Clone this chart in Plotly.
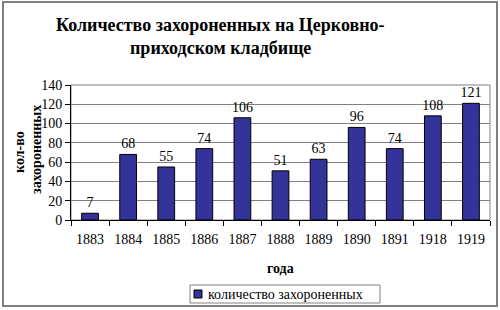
import plotly.graph_objects as go

years = ["1883", "1884", "1885", "1886", "1887", "1888", "1889", "1890", "1891", "1918", "1919"]
counts = [7, 68, 55, 74, 106, 51, 63, 96, 74, 108, 121]
series_name = "количество захороненных"
title_lines = ["Количество захороненных на Церковно-", "приходском кладбище"]
y_title_lines = ["кол-во", "захороненных"]
x_title = "года"

W, H = 500, 310
ml, mr, mt, mb = 71, 10, 85, 90
pw, ph = W - ml - mr, H - mt - mb

def px_x(p):
    return (p - ml) / pw

def px_y(p):
    return (H - mb - p) / ph

serif = "Times New Roman"
bar_color = "#333399"

fig = go.Figure()
fig.add_trace(go.Bar(
    x=years, y=counts, name=series_name,
    marker=dict(color=bar_color, line=dict(color="#000000", width=1)),
    text=counts, textposition="outside", cliponaxis=False, constraintext="none",
    textfont=dict(family=serif, size=14, color="#000000"),
    showlegend=False,
))

annotations = []
annotations.append(dict(xref="paper", yref="paper", x=px_x(220), y=px_y(25), text="<b>" + title_lines[0] + "</b>",
                        showarrow=False, xanchor="center", yanchor="middle",
                        font=dict(family=serif, size=18, color="#000000")))
annotations.append(dict(xref="paper", yref="paper", x=px_x(220), y=px_y(48), text="<b>" + title_lines[1] + "</b>",
                        showarrow=False, xanchor="center", yanchor="middle",
                        font=dict(family=serif, size=18, color="#000000")))
annotations.append(dict(xref="paper", yref="paper", x=px_x(19), y=px_y(152), text="<b>" + y_title_lines[0] + "</b>",
                        showarrow=False, xanchor="center", yanchor="middle", textangle=-90,
                        font=dict(family=serif, size=14, color="#000000")))
annotations.append(dict(xref="paper", yref="paper", x=px_x(36), y=px_y(150), text="<b>" + y_title_lines[1] + "</b>",
                        showarrow=False, xanchor="center", yanchor="middle", textangle=-90,
                        font=dict(family=serif, size=14, color="#000000")))
annotations.append(dict(xref="paper", yref="paper", x=px_x(280), y=px_y(268), text="<b>" + x_title + "</b>",
                        showarrow=False, xanchor="center", yanchor="middle",
                        font=dict(family=serif, size=14, color="#000000")))
# legend text
annotations.append(dict(xref="paper", yref="paper", x=px_x(206), y=px_y(294), text=series_name,
                        showarrow=False, xanchor="left", yanchor="middle",
                        font=dict(family=serif, size=14, color="#000000")))

fig.update_layout(
    width=W, height=H,
    margin=dict(l=ml, r=mr, t=mt, b=mb, autoexpand=False),
    paper_bgcolor="white", plot_bgcolor="white",
    bargap=0.56,
    font=dict(family=serif, size=14, color="#000000"),
    showlegend=False,
    xaxis=dict(
        type="category", showline=True, linecolor="#000000", linewidth=1,
        ticks="outside", tickson="boundaries", ticklen=5, tickcolor="#000000",
        tickfont=dict(family=serif, size=14), automargin=False,
        ticklabelstandoff=6,
        showgrid=False,
    ),
    yaxis=dict(
        range=[0, 140], dtick=20, showline=True, linecolor="#000000", linewidth=1,
        ticks="outside", ticklen=5, tickcolor="#000000",
        tickfont=dict(family=serif, size=14), automargin=False,
        showgrid=True, gridcolor="#808080", gridwidth=1, zeroline=False,
    ),
    annotations=annotations,
    shapes=[
        dict(type="rect", xref="paper", yref="paper",
             x0=0, x1=1, y0=0, y1=1, line=dict(color="#808080", width=1), layer="below"),
        dict(type="rect", xref="paper", yref="paper",
             x0=px_x(3), x1=px_x(497), y0=px_y(306), y1=px_y(2),
             line=dict(color="#7f7f7f", width=2)),
        # legend box
        dict(type="rect", xref="paper", yref="paper",
             x0=px_x(190), x1=px_x(380), y0=px_y(303), y1=px_y(285),
             line=dict(color="#808080", width=1), fillcolor="white"),
        # legend swatch
        dict(type="rect", xref="paper", yref="paper",
             x0=px_x(194), x1=px_x(202), y0=px_y(298), y1=px_y(290),
             line=dict(color="#000000", width=1), fillcolor=bar_color),
    ],
)

fig.write_html("out.html")
